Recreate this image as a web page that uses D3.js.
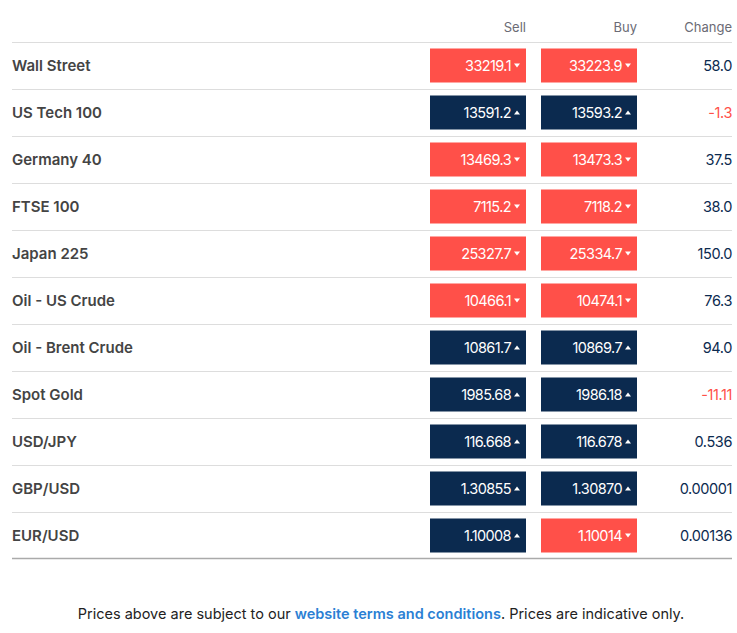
<!DOCTYPE html>
<html><head><meta charset="utf-8">
<script src="https://cdn.jsdelivr.net/npm/d3@7"></script>
<style>body{margin:0;background:#fff}</style></head>
<body><svg id="c" width="737" height="633"></svg>
<script>
const names=["Wall Street","US Tech 100","Germany 40","FTSE 100","Japan 225","Oil - US Crude","Oil - Brent Crude","Spot Gold","USD/JPY","GBP/USD","EUR/USD"];
const sell=["33219.1","13591.2","13469.3","7115.2","25327.7","10466.1","10861.7","1985.68","116.668","1.30855","1.10008"];
const buy=["33223.9","13593.2","13473.3","7118.2","25334.7","10474.1","10869.7","1986.18","116.678","1.30870","1.10014"];
const sellUp=[false,true,false,false,false,false,true,true,true,true,true];
const buyUp=[false,true,false,false,false,false,true,true,true,true,false];
const change=["58.0","-1.3","37.5","38.0","150.0","76.3","94.0","-11.11","0.536","0.00001","0.00136"];
const headers=["Sell","Buy","Change"];

const svg=d3.select("#c");
const font="Inter, 'Open Sans', sans-serif";
const y=d3.scaleBand().domain(d3.range(names.length)).range([42,559]);
const x=d3.scaleOrdinal().domain(["sell","buy","change"]).range([430,541,732]);
const boxW=96, boxH=34, RED="#ff5049", NAVY="#0b2a4f";

svg.append("g").selectAll("text").data(headers).join("text")
 .attr("x",(d,i)=>i<2?x(["sell","buy"][i])+boxW:732).attr("y",32).attr("text-anchor","end")
 .attr("font-family",font).attr("font-size",13).attr("fill","#6b6b75").text(d=>d);

svg.append("line").attr("x1",12).attr("x2",732).attr("y1",42.5).attr("y2",42.5).attr("stroke","#ddd");

const rows=svg.append("g").selectAll("g").data(names).join("g")
 .attr("transform",(d,i)=>`translate(0,${y(i)})`);
const bw=y.bandwidth();
rows.append("line").attr("x1",12).attr("x2",732)
 .attr("y1",(d,i)=>i===names.length-1?bw-0.5:bw+0.5).attr("y2",(d,i)=>i===names.length-1?bw-0.5:bw+0.5)
 .attr("stroke",(d,i)=>i===names.length-1?"#aaa":"#ddd").attr("stroke-width",(d,i)=>i===names.length-1?1.5:1);
rows.append("text").attr("x",12).attr("y",bw/2+5).attr("font-family",font).attr("font-weight",600)
 .attr("font-size",15).attr("fill","#444").text(d=>d);

function cell(key,vals,ups){
  const g=rows.append("g").attr("transform",`translate(${x(key)},${(bw-boxH)/2})`);
  g.append("rect").attr("width",boxW).attr("height",boxH).attr("fill",(d,i)=>ups[i]?NAVY:RED);
  g.append("text").attr("x",boxW-15).attr("y",boxH/2+5).attr("text-anchor","end")
   .attr("font-family",font).attr("font-size",14.5).attr("letter-spacing",-0.6).attr("fill","#fff").text((d,i)=>vals[i]);
  g.append("path").attr("transform",`translate(${boxW-9},${boxH/2})`)
   .attr("d",(d,i)=>ups[i]?"M-3,2L3,2L0,-2Z":"M-3,-2L3,-2L0,2Z").attr("fill","#fff");
}
cell("sell",sell,sellUp);
cell("buy",buy,buyUp);
rows.append("text").attr("x",x("change")).attr("y",bw/2+5).attr("text-anchor","end")
 .attr("font-family",font).attr("font-size",14.5).attr("letter-spacing",-0.4)
 .attr("fill",(d,i)=>change[i].startsWith("-")?RED:"#0b2a4f").text((d,i)=>change[i]);

const f=svg.append("text").attr("x",381).attr("y",619).attr("text-anchor","middle")
 .attr("font-family",font).attr("font-size",14.5).attr("fill","#222");
f.append("tspan").text("Prices above are subject to our ");
f.append("tspan").attr("fill","#2b7fd4").attr("font-weight",600).text("website terms and conditions");
f.append("tspan").text(". Prices are indicative only.");
</script></body></html>
